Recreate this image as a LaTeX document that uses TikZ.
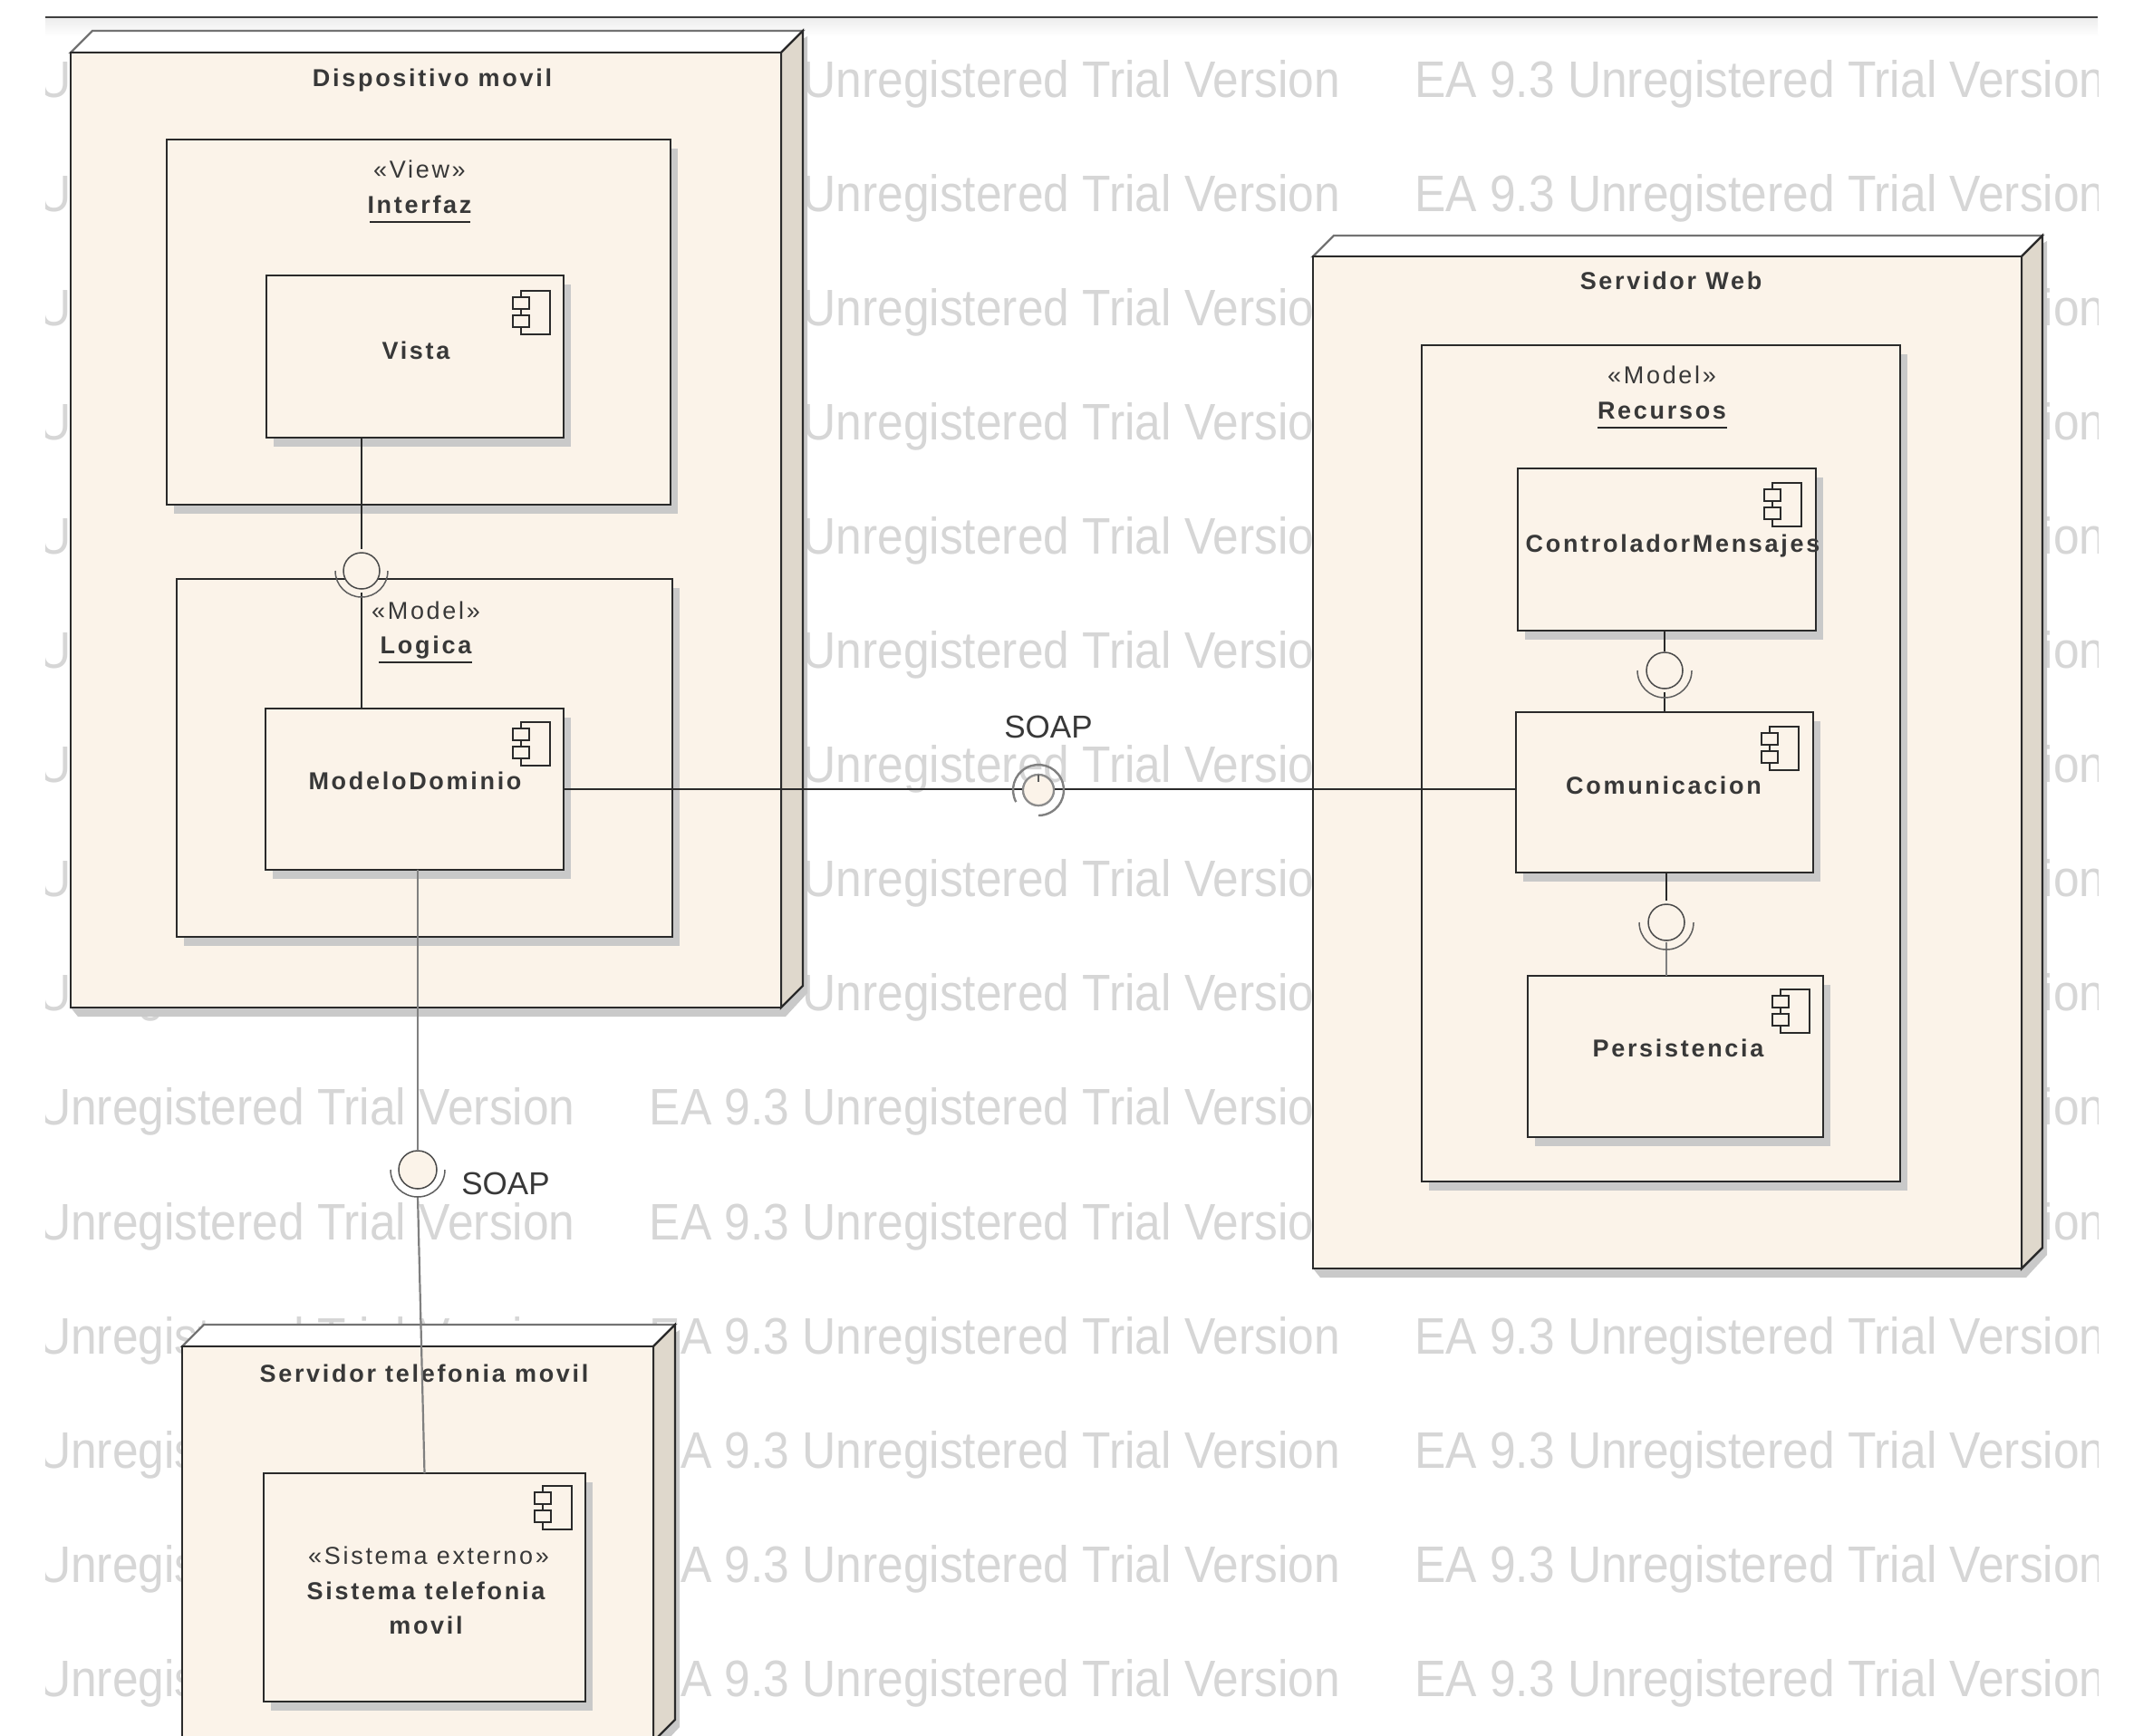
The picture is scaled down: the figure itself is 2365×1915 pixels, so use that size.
\documentclass[tikz,border=0pt]{standalone}
\usepackage{graphicx}
\usepackage{fontspec}
\usetikzlibrary{shadows,calc}
\setmainfont{Liberation Sans}
\newfontfamily\lsreg[LetterSpace=10]{Liberation Sans}
\newfontfamily\lsbold[LetterSpace=10]{Liberation Sans Bold}
\definecolor{cream}{HTML}{FBF3E9}
\definecolor{sideface}{HTML}{DFD8CC}
\definecolor{shadowc}{HTML}{C9C9C9}
\definecolor{ink}{HTML}{2A2A2A}
\definecolor{txt}{HTML}{383838}
\definecolor{wmark}{HTML}{D6D6D6}
\tikzset{
  box/.style 2 args={draw=ink,fill=cream,line width=2.4pt,inner sep=0pt,outer sep=0pt,anchor=north west,
    minimum width=#1pt,minimum height=#2pt,
    drop shadow={shadow xshift=8pt,shadow yshift=-10pt,fill=shadowc,opacity=1}},
  nodefront/.style 2 args={draw=ink,fill=cream,line width=2.4pt,inner sep=0pt,outer sep=0pt,anchor=north west,
    minimum width=#1pt,minimum height=#2pt},
  boldlbl/.style={anchor=base,inner sep=0pt,text=txt,font=\fontsize{27}{31}\selectfont\lsbold},
  reglbl/.style={anchor=base,inner sep=0pt,text=txt,font=\fontsize{27}{31}\selectfont\lsreg},
  soaplbl/.style={anchor=base,inner sep=0pt,text=txt,font=\fontsize{35}{40}\selectfont},
  wmlbl/.style={anchor=base west,inner sep=0pt,text=wmark,font=\fontsize{51.5}{60}\selectfont},
  conn/.style={draw=ink,line width=2.4pt},
  connsoft/.style={draw=black!50,line width=2.2pt},
  ballnode/.style={circle,draw=ink!85,fill=cream,line width=1.5pt,inner sep=0pt,outer sep=0pt,minimum size=#1pt},
  softball/.style={circle,draw=black!45,fill=cream,line width=2.2pt,inner sep=0pt,outer sep=0pt,minimum size=#1pt},
  socket/.style={draw=ink!75,line width=1.5pt},
  softsocket/.style={draw=black!50,line width=2.4pt},
  under/.style={draw=ink,line width=2.4pt},
  iconpart/.style={draw=ink,line width=1.8pt,fill=cream},
}
% icon: top-left x, y
\newcommand{\compicon}[2]{%
  \draw[iconpart] (#1+9,#2) rectangle (#1+41,#2+48);
  \draw[iconpart] (#1,#2+7) rectangle (#1+18,#2+20);
  \draw[iconpart] (#1,#2+27) rectangle (#1+18,#2+40);
}
% 3D faces of a deployment node: node name, depth x, depth y
\newcommand{\nodefaces}[3]{%
  \fill[shadowc] ($(#1.north east)+(#2+5,-#3+6)$) -- ($(#1.south east)+(#2+5,-#3+8)$)
     -- ($(#1.south east)+(5,10)$) -- ($(#1.south west)+(8,10)$) -- ($(#1.south west)$) -- ($(#1.north east)$) -- cycle;
  \draw[fill=white,draw=black!55,line width=2.4pt] (#1.north west) -- ++(#2,-#3) -- ++($(#1.north east)-(#1.north west)$) -- (#1.north east) -- cycle;
  \draw[fill=sideface,draw=ink,line width=2.4pt] (#1.north east) -- ++(#2,-#3) -- ($(#1.south east)+(#2,-#3)$) -- (#1.south east) -- cycle;
}
\newcommand{\socketarc}[4]{\draw[socket] ([shift={(#3:#2pt)}]#1.center) arc[start angle=#3,end angle=#4,radius=#2pt];}
\begin{document}
\begin{tikzpicture}[x=1pt,y=-1pt]
\useasboundingbox (0,0) rectangle (2365,1915);
\fill[white] (0,0) rectangle (2365,1915);
% faint band under the top rule
\shade[top color=black!7,bottom color=white] (50,20) rectangle (2315,40);
% watermark
\begin{scope}
\clip (50,22) rectangle (2315,1915);
\foreach \r in {0,...,14}{
  \foreach \c in {-1,0,1,2}{
    \node[wmlbl] (wm\r x\c) at ({-128+844.5*\c},{107+126.1*\r}) {\scalebox{1}[1.1]{EA 9.3 Unregistered Trial Version}};
  }
}
\end{scope}
% top rule
\coordinate (ruleA) at (50,19);
\coordinate (ruleB) at (2315,19);
\draw[draw=ink!90,line width=2.8pt] (ruleA) -- (ruleB);

% Dispositivo movil
\node[nodefront={784}{1054}] (dm) at (78,58) {};
\nodefaces{dm}{24}{24}
\node[nodefront={784}{1054}] (dm) at (78,58) {};
\node[boldlbl] (dmt) at (477,95) {Dispositivo movil};

\node[box={556}{403}] (interfaz) at (184,154) {};
\node[reglbl] (ist) at (463,196) {«View»};
\node[boldlbl] (int) at (463,235) {Interfaz};
\draw[under] (408,245) -- (519,245);

\node[box={328}{179}] (vista) at (294,304) {};
\compicon{566}{321}
\node[boldlbl] (vit) at (459,396) {Vista};

\node[box={547}{395}] (logica) at (195,639) {};
\node[reglbl] (lst) at (470,683) {«Model»};
\node[boldlbl] (lot) at (470,721) {Logica};
\draw[under] (418,731) -- (521,731);

\node[box={329}{178}] (modelo) at (293,782) {};
\compicon{566}{797}
\node[boldlbl] (mot) at (458,871) {ModeloDominio};

% Servidor Web
\node[nodefront={782}{1117}] (web) at (1449,283) {};
\nodefaces{web}{23}{23}
\node[nodefront={782}{1117}] (web) at (1449,283) {};
\node[boldlbl] (wet) at (1844,319) {Servidor Web};

\node[box={528}{923}] (recursos) at (1569,381) {};
\node[reglbl] (rst) at (1834,423) {«Model»};
\node[boldlbl] (ret) at (1834,462) {Recursos};
\draw[under] (1763,472) -- (1906,472);

\node[box={329}{179}] (ctrl) at (1675,517) {};
\compicon{1947}{533}
\node[boldlbl] (cot) at (1846,609) {ControladorMensajes};

\node[box={328}{177}] (comun) at (1673,786) {};
\compicon{1944}{802}
\node[boldlbl] (cmt) at (1836,876) {Comunicacion};

\node[box={326}{178}] (pers) at (1686,1077) {};
\compicon{1956}{1092}
\node[boldlbl] (pet) at (1852,1166) {Persistencia};

% Servidor telefonia movil
\node[nodefront={520}{436}] (tel) at (201,1486) {};
\nodefaces{tel}{24}{24}
\node[nodefront={520}{436}] (tel) at (201,1486) {};
\node[boldlbl] (tet) at (468,1525) {Servidor telefonia movil};

\node[box={355}{252}] (sis) at (291,1626) {};
\compicon{590}{1640}
\node[reglbl] (sst) at (473,1726) {«Sistema externo»};
\node[boldlbl] (sit) at (470,1765) {Sistema telefonia};
\node[boldlbl] (smt) at (470,1803) {movil};

% interface balls
\node[ballnode=40] (b1) at (399,630) {};
\node[ballnode=40] (b2) at (1837,740) {};
\node[ballnode=40] (b3) at (1839,1018) {};
\node[softball=34] (b4) at (1146,872) {};
\node[ballnode=42] (b5) at (461,1291) {};

% connectors
\draw[conn,shorten >=4pt] (b1 |- vista.south) -- (b1.north);
\draw[conn,shorten <=2pt] ($(b1.south)+(0,2)$) -- (b1 |- modelo.north);
\draw[conn,shorten >=1pt] (b2 |- ctrl.south) -- (b2.north);
\draw[conn] ($(b2.south)+(0,4)$) -- (b2 |- comun.north);
\draw[conn,shorten >=4pt] (b3 |- comun.south) -- (b3.north);
\draw[connsoft] ($(b3.south)+(0,2)$) -- (b3 |- pers.north);
\draw[conn] (modelo.east) -- (comun.west |- modelo.east);
\draw[connsoft,shorten >=1pt] (b5 |- modelo.south) -- (b5.north);
\draw[connsoft] ($(b5.south)+(0,8)$) -- (sis.north);

% redraw balls above connectors, then sockets
\node[softball=34] (b4) at (1146,872) {};
\socketarc{b1}{29}{180}{360}
\socketarc{b2}{30}{180}{360}
\socketarc{b3}{30}{180}{360}
\draw[softsocket] ([shift={(208:28pt)}]b4.center) arc[start angle=208,end angle=-90,radius=28pt];
\socketarc{b5}{30}{180}{360}
\draw[socket] (b4.north) -- ++(0,8);

% SOAP labels
\node[soaplbl] (s1) at (1157,814) {SOAP};
\node[soaplbl] (s2) at (558,1318) {SOAP};
\end{tikzpicture}
\end{document}
